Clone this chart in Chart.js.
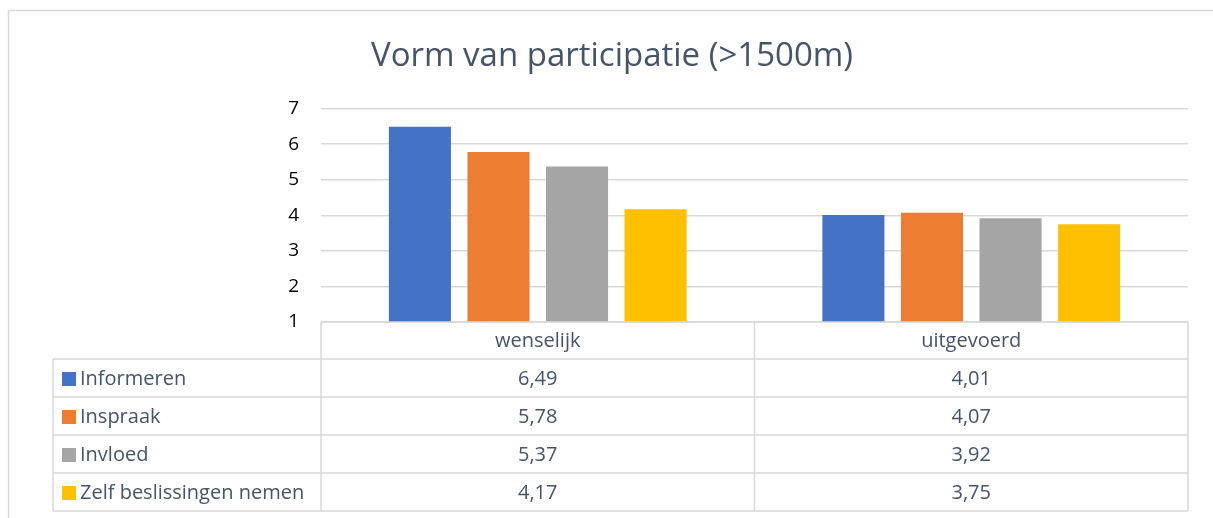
<!DOCTYPE html>
<html>
<head>
<meta charset="utf-8">
<script src="https://cdn.jsdelivr.net/npm/chart.js@4"></script>
<style>
  html, body { margin: 0; padding: 0; background: #fff; }
  #wrap { width: 1213px; height: 518px; }
</style>
</head>
<body>
<div id="wrap"><canvas id="chart"></canvas></div>
<script>
// data
const categories = ['wenselijk', 'uitgevoerd'];
const seriesNames = ['Informeren', 'Inspraak', 'Invloed', 'Zelf beslissingen nemen'];
const informeren = [6.49, 4.01];
const inspraak = [5.78, 4.07];
const invloed = [5.37, 3.92];
const zelfBeslissen = [4.17, 3.75];
const yTicks = [1, 2, 3, 4, 5, 6, 7];

const colors = ['#4472C4', '#ED7D31', '#A5A5A5', '#FFC000'];
const textColor = '#44546A';
const lineColor = '#D9D9D9';
const font = '"Open Sans", "Noto Sans", sans-serif';

const seriesValues = [informeren, inspraak, invloed, zelfBeslissen];

// draws the outer frame and the data table under the plot
const tablePlugin = {
  id: 'dataTable',
  afterDraw(chart) {
    const ctx = chart.ctx;
    const area = chart.chartArea;
    const x = chart.scales.x;
    const tableLeft = 53;
    const headerH = 37;
    const rowH = 38;
    const top = area.bottom;
    const colEdges = [area.left];
    categories.forEach((c, i) => {
      colEdges.push(i < categories.length - 1
        ? (x.getPixelForValue(i) + x.getPixelForValue(i + 1)) / 2
        : area.right);
    });

    ctx.save();
    ctx.strokeStyle = lineColor;
    ctx.lineWidth = 1.5;

    // outer frame (top + left edge)
    ctx.beginPath();
    ctx.moveTo(8.5, 518);
    ctx.lineTo(8.5, 10.5);
    ctx.lineTo(1213, 10.5);
    ctx.stroke();

    // header row
    ctx.beginPath();
    ctx.moveTo(area.left, top);
    ctx.lineTo(area.right, top);
    colEdges.forEach(cx => {
      ctx.moveTo(cx, top);
      ctx.lineTo(cx, top + headerH);
    });
    ctx.stroke();

    // data rows
    const rowsTop = top + headerH;
    const rowsBottom = rowsTop + rowH * seriesNames.length;
    ctx.beginPath();
    for (let r = 0; r <= seriesNames.length; r++) {
      ctx.moveTo(tableLeft, rowsTop + r * rowH);
      ctx.lineTo(area.right, rowsTop + r * rowH);
    }
    [tableLeft].concat(colEdges).forEach(cx => {
      ctx.moveTo(cx, rowsTop);
      ctx.lineTo(cx, rowsBottom);
    });
    ctx.stroke();

    ctx.fillStyle = textColor;
    ctx.font = '20px ' + font;
    ctx.textBaseline = 'middle';
    ctx.textAlign = 'center';
    categories.forEach((c, i) => {
      ctx.fillText(c, (colEdges[i] + colEdges[i + 1]) / 2, top + headerH / 2 + 1);
    });

    seriesNames.forEach((name, r) => {
      const cy = rowsTop + r * rowH + rowH / 2 + 1;
      ctx.fillStyle = colors[r];
      ctx.fillRect(62, cy - 7, 14, 14);
      ctx.fillStyle = textColor;
      ctx.textAlign = 'left';
      ctx.fillText(name, 80, cy);
      ctx.textAlign = 'center';
      seriesValues[r].forEach((v, i) => {
        ctx.fillText(v.toFixed(2).replace('.', ','), (colEdges[i] + colEdges[i + 1]) / 2, cy);
      });
    });
    ctx.restore();
  }
};

new Chart(document.getElementById('chart'), {
  type: 'bar',
  data: {
    labels: categories,
    datasets: seriesNames.map((name, i) => ({
      label: name,
      data: seriesValues[i],
      backgroundColor: colors[i],
      categoryPercentage: 0.725,
      barPercentage: 0.79
    }))
  },
  options: {
    responsive: true,
    maintainAspectRatio: false,
    animation: false,
    layout: { padding: { top: 37, right: 25, bottom: 188, left: 36 } },
    plugins: {
      legend: { display: false },
      tooltip: { enabled: false },
      title: {
        display: true,
        text: 'Vorm van participatie (>1500m)',
        color: textColor,
        font: { family: font, size: 33, weight: 'normal' },
        padding: { top: 0, bottom: 32 }
      }
    },
    scales: {
      x: {
        ticks: { display: false },
        grid: { display: false },
        border: { display: false }
      },
      y: {
        min: 1,
        max: 7,
        afterFit(s) { s.width = 285; },
        afterBuildTicks(s) { s.ticks = yTicks.map(v => ({ value: v })); },
        ticks: {
          color: '#000',
          font: { family: font, size: 19 },
          padding: 22
        },
        grid: { color: lineColor, lineWidth: 1.5, drawTicks: false },
        border: { display: false }
      }
    }
  },
  plugins: [tablePlugin]
});
</script>
</body>
</html>
